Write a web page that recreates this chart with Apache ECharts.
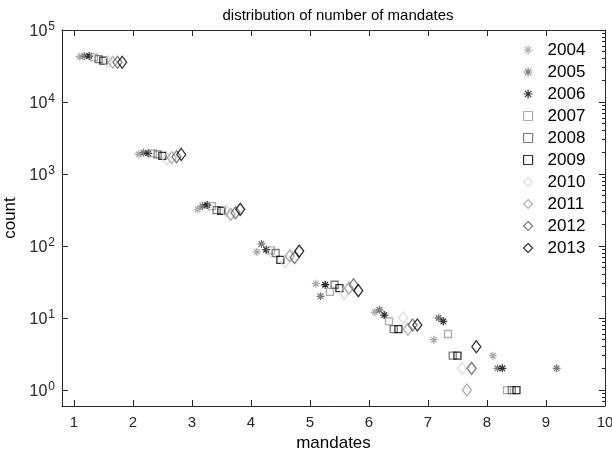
<!DOCTYPE html>
<html>
<head>
<meta charset="utf-8">
<script src="https://cdn.jsdelivr.net/npm/echarts@6/dist/echarts.min.js"></script>
<style>
  html, body { margin: 0; padding: 0; background: #fff; }
  #chart { width: 612px; height: 453px; }
</style>
</head>
<body>
<div id="chart"></div>
<script>
// number of mandates (x categories)
const mandates = [1, 2, 3, 4, 5, 6, 7, 8, 9]
const years = ['2004', '2005', '2006', '2007', '2008', '2009', '2010', '2011', '2012', '2013']

// counts per year, one value per mandate count (null = no point)
const counts2004 = [42600, 1880, 323, 83, 30, 12, 5, 3, null]
const counts2005 = [43500, 1980, 359, 107, 20, 13, 10, 2, 2]
const counts2006 = [43500, 1940, 371, 89, 29, 11, 9, 2, null]
const counts2007 = [41800, 1930, 359, 87, 23, 9, 6, 1, null]
const counts2008 = [39500, 1870, 316, 80, 29, 7, 3, 1, null]
const counts2009 = [37500, 1790, 309, 64, 26, 7, 3, 1, null]
const counts2010 = [36300, 1620, 305, 60, 22, 10, 2, null, null]
const counts2011 = [35600, 1680, 275, 73, 26, 7, 1, null, null]
const counts2012 = [35600, 1740, 290, 69, 29, 8, 2, null, null]
const counts2013 = [35600, 1870, 323, 85, 24, 8, 4, null, null]

const xTicks = [1, 2, 3, 4, 5, 6, 7, 8, 9, 10]
const yDecades = [0, 1, 2, 3, 4, 5]

const allCounts = [counts2004, counts2005, counts2006, counts2007, counts2008,
  counts2009, counts2010, counts2011, counts2012, counts2013]

const asterisk = 'path://M5,0L5,10M0,5L10,5M1.5,1.5L8.5,8.5M1.5,8.5L8.5,1.5'
const styles = [
  { symbol: asterisk, size: 8, color: '#999999' },
  { symbol: asterisk, size: 8, color: '#5a5a5a' },
  { symbol: asterisk, size: 8, color: '#000000' },
  { symbol: 'rect', size: 7, color: '#999999' },
  { symbol: 'rect', size: 7, color: '#5a5a5a' },
  { symbol: 'rect', size: 7, color: '#000000' },
  { symbol: 'diamond', size: [9, 12], color: '#d3d3d3' },
  { symbol: 'diamond', size: [9, 12], color: '#999999' },
  { symbol: 'diamond', size: [9, 12], color: '#5a5a5a' },
  { symbol: 'diamond', size: [9, 12], color: '#000000' }
]

// minor ticks of the log axis
const minorTicks = []
for (let d = -1; d < 5; d++) {
  for (let k = 2; k <= 9; k++) {
    const v = d + Math.log10(k)
    if (v > Math.log10(0.6) && v < 5) minorTicks.push(v)
  }
}

const yMin = Math.log10(0.6)
const font = 'Liberation Sans, Arial, sans-serif'

const series = years.map((y, i) => ({
  name: y,
  type: 'scatter',
  symbol: styles[i].symbol,
  symbolSize: styles[i].size,
  itemStyle: {
    color: 'rgba(0,0,0,0)',
    borderColor: styles[i].color,
    borderWidth: 1.3
  },
  emphasis: { disabled: true },
  data: mandates
    .map((m, j) => allCounts[i][j] == null ? null : [m + 0.1 + 0.08 * i, Math.log10(allCounts[i][j])])
    .filter(p => p !== null)
}))

const tickStyle = { lineStyle: { color: '#262626', width: 1 } }
const lineStyle = { onZero: false, lineStyle: { color: '#262626' } }

const chart = echarts.init(document.getElementById('chart'))
chart.setOption({
  animation: false,
  textStyle: { fontFamily: font },
  title: {
    text: 'distribution of number of mandates',
    left: 333,
    textAlign: 'center',
    top: 3,
    textStyle: { fontSize: 15, fontWeight: 'normal', color: '#000', fontFamily: font }
  },
  legend: {
    orient: 'vertical',
    left: 518,
    top: 34,
    itemGap: 0,
    itemWidth: 9,
    itemHeight: 9,
    itemStyle: { borderWidth: 1.2 },
    textStyle: { fontSize: 17, color: '#000', lineHeight: 22, padding: [0, 0, 0, 10], fontFamily: font },
    data: years
  },
  grid: { left: 62, right: 7, top: 30, bottom: 47, outerBoundsMode: 'none', containLabel: false },
  xAxis: [
    {
      type: 'value',
      min: 0.8,
      max: 10,
      name: 'mandates',
      nameLocation: 'middle',
      nameGap: 23,
      nameTextStyle: { fontSize: 17, color: '#000', fontFamily: font },
      axisLine: lineStyle,
      axisTick: { inside: true, length: 6, customValues: xTicks, ...tickStyle },
      axisLabel: { customValues: xTicks, fontSize: 15, color: '#262626', margin: 9 },
      splitLine: { show: false }
    },
    {
      type: 'value',
      position: 'top',
      min: 0.8,
      max: 10,
      axisLine: lineStyle,
      axisTick: { inside: true, length: 6, customValues: xTicks, ...tickStyle },
      axisLabel: { show: false },
      splitLine: { show: false }
    }
  ],
  yAxis: [
    {
      type: 'value',
      min: yMin,
      max: 5,
      name: 'count',
      nameLocation: 'middle',
      nameGap: 40,
      nameTextStyle: { fontSize: 17, color: '#000', fontFamily: font },
      axisLine: { show: true, ...lineStyle },
      axisTick: { show: true, inside: true, length: 6, customValues: yDecades, ...tickStyle },
      axisLabel: {
        customValues: yDecades,
        margin: 7,
        padding: [4, 0, 0, 0],
        formatter: v => '{b|10}{s|' + Math.round(v) + '}',
        rich: {
          b: { fontSize: 16, color: '#262626', fontFamily: font },
          s: { fontSize: 12, color: '#262626', fontFamily: font, padding: [0, 0, 11, 1] }
        }
      },
      splitLine: { show: false }
    },
    {
      type: 'value',
      min: yMin,
      max: 5,
      axisLine: { show: false, onZero: false },
      axisTick: { show: true, inside: true, length: 3, customValues: minorTicks, ...tickStyle },
      axisLabel: { show: false },
      splitLine: { show: false }
    },
    {
      type: 'value',
      position: 'right',
      min: yMin,
      max: 5,
      axisLine: { show: true, ...lineStyle },
      axisTick: { show: true, inside: true, length: 6, customValues: yDecades, ...tickStyle },
      axisLabel: { show: false },
      splitLine: { show: false }
    },
    {
      type: 'value',
      position: 'right',
      min: yMin,
      max: 5,
      axisLine: { show: false, onZero: false },
      axisTick: { show: true, inside: true, length: 3, customValues: minorTicks, ...tickStyle },
      axisLabel: { show: false },
      splitLine: { show: false }
    }
  ],
  series: series
})
</script>
</body>
</html>
